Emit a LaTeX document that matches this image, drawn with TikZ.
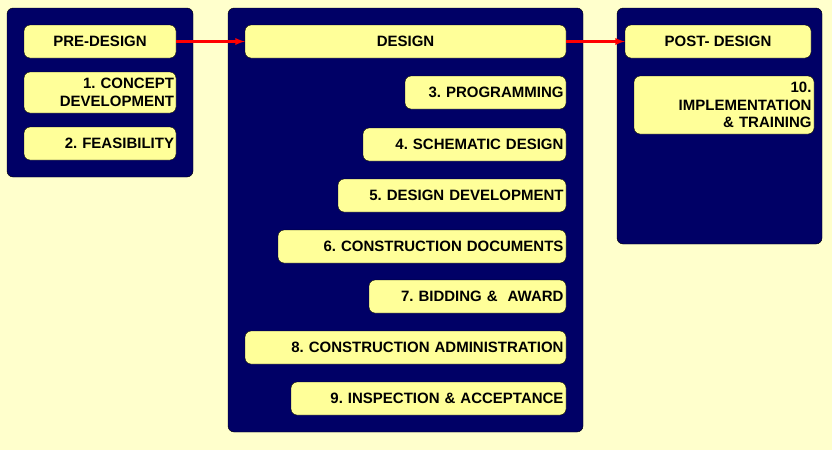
\documentclass[tikz,border=0pt]{standalone}
\usepackage{fontspec}
\setmainfont{Liberation Sans}
\frenchspacing
\definecolor{bgyellow}{HTML}{FFFFCC}
\definecolor{navy}{HTML}{000066}
\definecolor{boxyellow}{HTML}{FFFF99}
\tikzset{
  panel/.style={fill=navy, draw=black, rounded corners=6pt},
  stage/.style={fill=boxyellow, draw=black, rounded corners=6pt, inner sep=0pt,
    font=\bfseries\fontsize{15}{17.5}\selectfont, align=right},
  flow/.style={draw=red, line width=2.2pt, -latex}
}
\begin{document}
\begin{tikzpicture}[x=1pt,y=-1pt]
  \fill[bgyellow] (0,0) rectangle (832,450);
  \useasboundingbox (0,0) rectangle (832,450);
  \draw[panel] (7,8) rectangle (193,177);
  \draw[panel] (228,8) rectangle (583,432);
  \draw[panel] (617,8) rectangle (822,244);
  \begin{scope}[every node/.style={stage}]
    \node[minimum width=152, minimum height=33, align=center] (pre) at (100,41.5) {PRE-DESIGN};
    \node[minimum width=152, minimum height=41, text width=148] (s_1) at (100,92.5) {1. CONCEPT\\DEVELOPMENT};
    \node[minimum width=152, minimum height=33, text width=148] (s_2) at (100,143.5) {2. FEASIBILITY};
    \node[minimum width=321, minimum height=33, align=center] (des) at (405.5,41.5) {DESIGN};
    \node[minimum width=161, minimum height=33, text width=156] (s_3) at (485.5,92.5) {3. PROGRAMMING};
    \node[minimum width=203, minimum height=33, text width=198] (s_4) at (464.5,144.5) {4. SCHEMATIC DESIGN};
    \node[minimum width=228, minimum height=33, text width=223] (s_5) at (452,195.5) {5. DESIGN DEVELOPMENT};
    \node[minimum width=288, minimum height=33, text width=283] (s_6) at (422,246.5) {6. CONSTRUCTION DOCUMENTS};
    \node[minimum width=197, minimum height=33, text width=192] (s_7) at (467.5,296.5) {7. BIDDING \&\ \ AWARD};
    \node[minimum width=321, minimum height=33, text width=316] (s_8) at (405.5,347.5) {8. CONSTRUCTION ADMINISTRATION};
    \node[minimum width=275, minimum height=33, text width=270] (s_9) at (428.5,398.5) {9. INSPECTION \& ACCEPTANCE};
    \node[minimum width=186, minimum height=33, align=center] (post) at (718,41.5) {POST- DESIGN};
    \node[minimum width=180, minimum height=58, text width=175] (s_10) at (724,105) {10.\\IMPLEMENTATION\\\& TRAINING};
  \end{scope}
  \draw[flow] (pre) -- (des);
  \draw[flow] (des) -- (post);
\end{tikzpicture}
\end{document}
